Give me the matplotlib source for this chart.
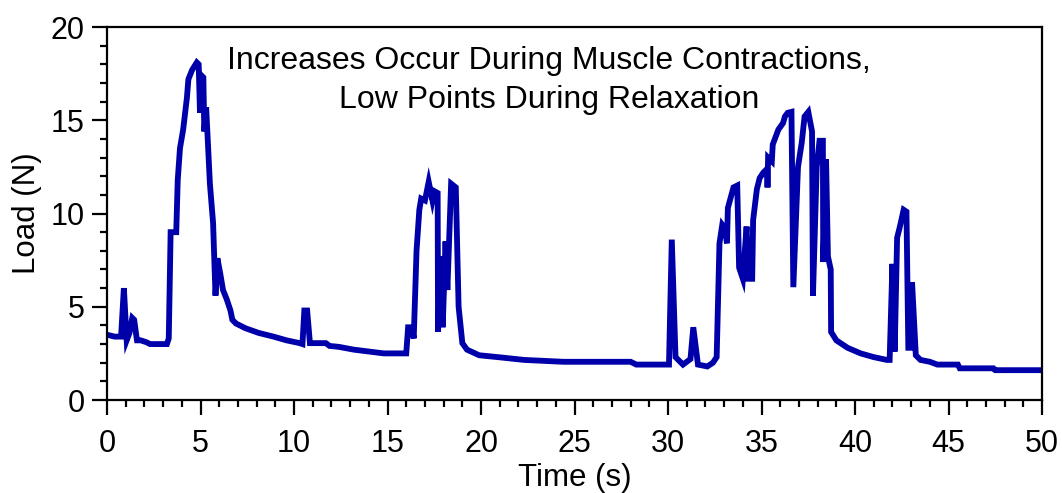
import matplotlib
matplotlib.use("Agg")
import matplotlib.pyplot as plt
from matplotlib.ticker import MultipleLocator

# time (s) and load (N)
time_s = [0.0, 0.4, 0.75, 0.9, 1.05, 1.2, 1.35, 1.45, 1.6, 1.8, 2.1, 2.3, 3.2, 3.3,
          3.4, 3.7, 3.78, 3.9, 4.07, 4.27, 4.35, 4.55, 4.8, 4.9, 4.97, 5.05, 5.15,
          5.2, 5.3, 5.5, 5.67, 5.8, 5.9, 6.05, 6.2, 6.4, 6.6, 6.7, 6.9, 7.4, 8.1,
          8.9, 9.6, 10.3, 10.45, 10.55, 10.7, 10.85, 11.7, 11.9, 12.4, 13.2, 14.8,
          16.0, 16.1, 16.3, 16.4, 16.55, 16.7, 16.8, 17.0, 17.2, 17.4, 17.5, 17.68,
          17.7, 17.85, 17.95, 18.1, 18.2, 18.4, 18.65, 18.8, 19.0, 19.25, 19.9,
          20.9, 22.3, 24.4, 28.0, 28.3, 30.05, 30.2, 30.4, 30.8, 31.2, 31.35, 31.6,
          32.1, 32.4, 32.6, 32.75, 32.9, 33.05, 33.15, 33.2, 33.5, 33.7, 33.8, 34.0,
          34.2, 34.3, 34.5, 34.55, 34.75, 34.9, 35.1, 35.3, 35.32, 35.35, 35.55,
          35.6, 35.9, 36.15, 36.25, 36.4, 36.6, 36.7, 36.95, 37.15, 37.3, 37.5,
          37.7, 37.75, 37.95, 38.1, 38.28, 38.3, 38.45, 38.55, 38.7, 38.72, 39.0,
          39.6, 40.3, 41.0, 41.7, 41.85, 42.0, 42.12, 42.25, 42.4, 42.6, 42.75,
          42.85, 42.95, 43.05, 43.25, 43.5, 44.0, 44.4, 45.5, 45.6, 47.4, 47.5, 50.0]
load_n = [3.5, 3.4, 3.4, 6.0, 3.2, 3.6, 4.4, 4.3, 3.2, 3.2, 3.1, 3.0, 3.0, 3.3,
          9.0, 9.0, 11.8, 13.5, 14.5, 16.2, 17.2, 17.7, 18.1, 18.0, 15.4, 17.4, 17.3,
          14.4, 15.7, 11.6, 9.5, 5.6, 7.6, 6.8, 5.9, 5.4, 4.8, 4.3, 4.1, 3.85, 3.6,
          3.4, 3.2, 3.05, 3.0, 4.8, 4.8, 3.05, 3.05, 2.9, 2.85, 2.7, 2.5,
          2.5, 3.9, 3.9, 3.3, 8.0, 10.2, 10.8, 10.7, 11.7, 10.7, 11.2, 11.1,
          3.65, 7.7, 3.9, 8.5, 5.9, 11.6, 11.4, 5.0, 3.05, 2.7, 2.4,
          2.3, 2.15, 2.05, 2.05, 1.9, 1.9, 8.6, 2.3, 1.9, 2.2, 3.9, 1.9,
          1.8, 2.0, 2.3, 8.4, 9.4, 9.2, 8.4, 10.3, 11.4, 11.5, 7.1, 6.5,
          9.3, 6.5, 6.5, 9.65, 11.3, 11.9, 12.2, 12.4, 11.4, 13.0, 12.8,
          13.7, 14.5, 14.85, 15.2, 15.4, 15.45, 6.05, 12.5, 13.8, 15.2, 15.45,
          14.4, 5.6, 12.5, 13.9, 13.9, 7.4, 12.9, 7.7, 7.0, 3.65, 3.2,
          2.8, 2.5, 2.3, 2.15, 2.15, 7.3, 2.6, 8.7, 9.3, 10.2, 10.1,
          2.8, 2.8, 6.3, 2.4, 2.15, 2.05, 1.9, 1.9, 1.7, 1.7, 1.6, 1.6]

note = "Increases Occur During Muscle Contractions,\nLow Points During Relaxation"

plt.rcParams['font.family'] = ['Liberation Sans', 'DejaVu Sans']

fig = plt.figure(figsize=(10.62, 4.93), dpi=100)
ax = fig.add_axes([0.1008, 0.1886, 0.8804, 0.7566])

ax.plot(time_s, load_n, color='#0000aa', linewidth=4.2, solid_joinstyle='miter')

ax.set_xlim(0, 50)
ax.set_ylim(0, 20)
ax.xaxis.set_major_locator(MultipleLocator(5))
ax.xaxis.set_minor_locator(MultipleLocator(1))
ax.yaxis.set_major_locator(MultipleLocator(5))
ax.yaxis.set_minor_locator(MultipleLocator(1))
ax.tick_params(which='major', direction='out', length=11, width=1.6, labelsize=22)
ax.tick_params(which='minor', direction='out', length=5, width=1.6)
ax.tick_params(axis='x', which='major', pad=10)
ax.tick_params(axis='y', which='major', pad=5)
for s in ax.spines.values():
    s.set_linewidth(1.6)

ax.set_xlabel("Time (s)", fontsize=22.5, labelpad=3)
ax.set_ylabel("Load (N)", fontsize=22.5, labelpad=6)

ax.text(23.65, 17.15, note, ha='center', va='center', fontsize=23, linespacing=1.4)

fig.savefig("out.png", dpi=100)
